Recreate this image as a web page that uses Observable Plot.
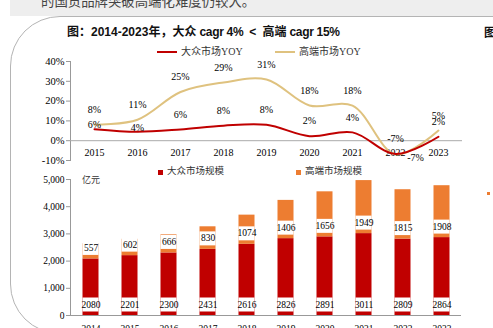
<!DOCTYPE html>
<html><head><meta charset="utf-8">
<script src="https://cdn.jsdelivr.net/npm/d3@7"></script>
<script src="https://cdn.jsdelivr.net/npm/@observablehq/plot@0.6"></script>
<style>
body{margin:0;background:#fff;}
#page{position:relative;width:493px;height:328px;overflow:hidden;background:#fff;font-family:"Liberation Serif","Noto Sans CJK SC",serif;}
.abs{position:absolute;white-space:nowrap;line-height:1;}
#band{left:10px;top:0;width:483px;height:16px;background:#eeeeee;}
#toptext{left:41px;top:-6px;font-family:"Noto Sans CJK SC",sans-serif;font-size:13.4px;color:#444;}
#card{left:10px;top:16px;width:620px;height:318px;border:1px solid #b4b4b4;border-radius:50px;box-sizing:border-box;}
#title{left:67px;top:26px;font-family:"Liberation Sans","Noto Sans CJK SC",sans-serif;font-weight:bold;font-size:12px;color:#111;}
#title .sp{display:inline-block;width:6px;}
#title .lat{letter-spacing:-0.3px;}
#title2{left:484px;top:26px;font-family:"Noto Sans CJK SC",sans-serif;font-weight:bold;font-size:12px;color:#111;}
.leg{font-size:10px;color:#333;top:47px;}
.legline{position:absolute;width:20px;height:2px;top:51px;}
.legsq{position:absolute;width:5px;height:5px;top:169.5px;}
.leg2{font-size:9.5px;color:#333;top:167px;}
#unit{left:82px;top:176px;font-size:9px;color:#333;}
#dot{left:487px;top:192px;width:3px;height:3px;background:#ED7D31;}
#lineChart{left:0;top:55px;}
#barChart{left:0;top:170px;}
</style></head><body>
<div id="page">
  <div class="abs" id="band"></div>
  <div class="abs" id="toptext">的国货品牌突破高端化难度仍较大。</div>
  <div class="abs" id="card"></div>
  <div class="abs" id="title">图：2014-2023年，大众<span class="lat"> cagr 4%</span><span class="sp"></span>&lt;<span class="sp"></span>高端<span class="lat"> cagr 15%</span></div>
  <div class="abs" id="title2">图</div>
  <div class="legline" style="left:157px;background:#C00000"></div>
  <div class="abs leg" style="left:181px">大众市场YOY</div>
  <div class="legline" style="left:275px;background:#DFC27F"></div>
  <div class="abs leg" style="left:299px">高端市场YOY</div>
  <div class="abs" id="lineChart"></div>
  <div class="legsq" style="left:158px;background:#C00000"></div>
  <div class="abs leg2" style="left:167px">大众市场规模</div>
  <div class="legsq" style="left:296px;background:#ED7D31"></div>
  <div class="abs leg2" style="left:305px">高端市场规模</div>
  <div class="abs" id="barChart"></div>
  <div class="abs" id="unit">亿元</div>
  <div class="abs" id="dot"></div>
</div>
<script>
// ---- data ----
const yoyYears = [2015, 2016, 2017, 2018, 2019, 2020, 2021, 2022, 2023];
const massYoy = [5.8, 4.5, 5.7, 7.6, 8.0, 2.3, 4.2, -6.7, 2.0];
const premYoy = [8.1, 10.6, 24.6, 29.4, 30.9, 17.8, 17.7, -6.9, 5.1];
const massYoyLabels = ["6%", "4%", "6%", "8%", "8%", "2%", "4%", "-7%", "2%"];
const premYoyLabels = ["8%", "11%", "25%", "29%", "31%", "18%", "18%", "-7%", "5%"];
const yoyTicks = [-10, 0, 10, 20, 30, 40];

const sizeYears = [2014, 2015, 2016, 2017, 2018, 2019, 2020, 2021, 2022, 2023];
const massSize = [2080, 2201, 2300, 2431, 2616, 2826, 2891, 3011, 2809, 2864];
const premSize = [557, 602, 666, 830, 1074, 1406, 1656, 1949, 1815, 1908];
const sizeTicks = [0, 1000, 2000, 3000, 4000, 5000];

const RED = "#C00000", GOLD = "#DFC27F", ORANGE = "#ED7D31";
const baseStyle = {fontFamily: '"Liberation Serif", serif', fontSize: "10px", color: "#000", background: "transparent", overflow: "visible"};

// ---- line chart ----
const yoy = yoyYears.map((year, i) => ({year, mass: massYoy[i], prem: premYoy[i], massLabel: massYoyLabels[i], premLabel: premYoyLabels[i]}));
const lineChart = Plot.plot({
  width: 493, height: 115,
  marginTop: 6, marginBottom: 10, marginLeft: 70, marginRight: 31,
  style: baseStyle,
  x: {type: "point", domain: yoyYears, padding: 0.5, axis: null},
  y: {domain: [-10, 40], axis: null},
  marks: [
    Plot.axisY({ticks: yoyTicks, tickFormat: d => d + "%", tickSize: 4, tickPadding: 2, stroke: "#999", fill: "#000", fontSize: 10.5, label: null}),
    Plot.frame({anchor: "left", stroke: "#999"}),
    Plot.ruleY([0], {stroke: "#aaa"}),
    Plot.text(yoyYears, {x: d => d, y: d => 0, dy: 12, text: d => String(d), fill: "#000", fontSize: 10}),
    Plot.line(yoy, {x: "year", y: "prem", stroke: GOLD, strokeWidth: 2, curve: "catmull-rom"}),
    Plot.line(yoy, {x: "year", y: "mass", stroke: RED, strokeWidth: 2, curve: "catmull-rom"}),
    Plot.text(yoy, {filter: d => d.year !== 2022, x: "year", y: "prem", text: "premLabel", dy: -15, fill: "#000"}),
    Plot.text(yoy, {filter: d => d.year === 2022, x: "year", y: "prem", text: "premLabel", dx: 20, dy: 3, fill: "#000"}),
    Plot.text(yoy, {filter: d => d.year > 2016, x: "year", y: "mass", text: "massLabel", dy: -15, fill: "#000"}),
    Plot.text(yoy, {filter: d => d.year <= 2016, x: "year", y: "mass", text: "massLabel", dy: -4, fill: "#000"})
  ]
});
document.getElementById("lineChart").appendChild(lineChart);

// ---- bar chart ----
const rows = sizeYears.map((year, i) => ({year, base: 0, mass: massSize[i], prem: premSize[i], top: massSize[i] + premSize[i]}));
const inset = {insetLeft: 11.5, insetRight: 11.5};
const barChart = Plot.plot({
  width: 493, height: 165,
  marginTop: 9, marginBottom: 20, marginLeft: 70, marginRight: 32,
  style: {...baseStyle, fontSize: "9.5px"},
  x: {type: "band", domain: sizeYears, padding: 0, axis: null},
  y: {domain: [0, 5000], axis: null},
  marks: [
    Plot.axisY({ticks: sizeTicks, tickSize: 4, tickPadding: 2, stroke: "#999", fill: "#000", label: null}),
    Plot.axisX({tickSize: 0, tickPadding: 10, tickFormat: d => String(d), fill: "#000", label: null}),
    Plot.frame({anchor: "left", stroke: "#999"}),
    Plot.barY(rows, {x: "year", y1: "base", y2: "mass", fill: RED, ...inset}),
    Plot.barY(rows, {x: "year", y1: "mass", y2: "top", fill: ORANGE, ...inset}),
    Plot.tickY(rows, {x: "year", y: "base", stroke: "#fff", strokeWidth: 14, dy: -11, ...inset}),
    Plot.tickY(rows, {x: "year", y: "mass", stroke: "#fff", strokeWidth: 14, dy: -11, ...inset}),
    Plot.text(rows, {x: "year", y: "base", text: d => String(d.mass), dy: -11, fill: "#000"}),
    Plot.text(rows, {x: "year", y: "mass", text: d => String(d.prem), dy: -11, fill: "#000"}),
    Plot.ruleY([0], {stroke: "#999"})
  ]
});
document.getElementById("barChart").appendChild(barChart);
</script>
</body></html>
